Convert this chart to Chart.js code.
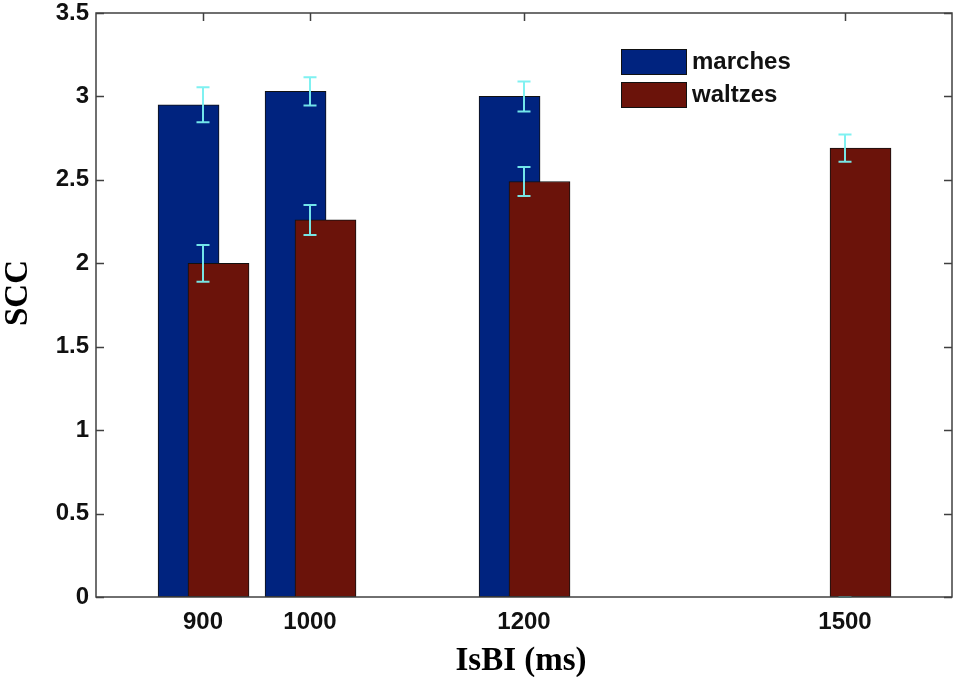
<!DOCTYPE html>
<html>
<head>
<meta charset="utf-8">
<script src="https://cdn.jsdelivr.net/npm/chart.js@4.4.1/dist/chart.umd.min.js"></script>
<style>
  html, body { margin: 0; padding: 0; background: #fff; }
  #wrap { width: 956px; height: 677px; }
</style>
</head>
<body>
<div id="wrap"><canvas id="c" width="956" height="677"></canvas></div>
<script>
// ---- data ----
const categories = [900, 1000, 1200, 1500];
const marches = [2.95, 3.03, 3.00, 0];
const marchesErr = [0.105, 0.085, 0.09, 0];
const waltzes = [2.00, 2.26, 2.49, 2.69];
const waltzesErr = [0.11, 0.09, 0.087, 0.082];
const yTicks = [0, 0.5, 1, 1.5, 2, 2.5, 3, 3.5];
const seriesNames = ['marches', 'waltzes'];
const xTitle = 'IsBI (ms)';
const yTitle = 'SCC';

// ---- styling / layout constants ----
const MARCH_COLOR = '#00237f';
const WALTZ_COLOR = '#6b130a';
const ERR_COLOR = 'rgba(120,240,240,0.95)';
const MARCH_OFFSET = -13.5;
const WALTZ_OFFSET = 14.5;
const TICK_FONT = { family: '"Liberation Sans", Arial, sans-serif', size: 24, weight: 'bold' };
const TITLE_CSS = 'bold 33px "Liberation Serif", "Times New Roman", serif';

const frameAndTicks = {
  id: 'frameAndTicks',
  beforeDatasetsDraw(chart) {
    const { ctx, chartArea: a, scales: { x, y } } = chart;
    ctx.save();
    ctx.strokeStyle = '#404040';
    ctx.lineWidth = 1.5;
    const L = 8;
    ctx.beginPath();
    x.ticks.forEach(t => {
      const px = Math.round(x.getPixelForValue(t.value)) + 0.5;
      ctx.moveTo(px, a.bottom); ctx.lineTo(px, a.bottom - L);
      ctx.moveTo(px, a.top); ctx.lineTo(px, a.top + L);
    });
    y.ticks.forEach(t => {
      const py = Math.round(y.getPixelForValue(t.value)) + 0.5;
      ctx.moveTo(a.left, py); ctx.lineTo(a.left + L, py);
      ctx.moveTo(a.right, py); ctx.lineTo(a.right - L, py);
    });
    ctx.stroke();
    ctx.restore();
  },
  afterDatasetsDraw(chart) {
    const { ctx, chartArea: a, scales: { x, y } } = chart;
    // error bars, drawn at the category position
    ctx.save();
    ctx.strokeStyle = ERR_COLOR;
    ctx.lineWidth = 2;
    const cap = 6.5;
    const drawErr = (vals, errs) => {
      vals.forEach((v, i) => {
        const px = x.getPixelForValue(categories[i]);
        const yt = y.getPixelForValue(v + errs[i]);
        const yb = y.getPixelForValue(v - errs[i]);
        ctx.beginPath();
        ctx.moveTo(px, yt); ctx.lineTo(px, yb);
        ctx.moveTo(px - cap, yt); ctx.lineTo(px + cap, yt);
        ctx.moveTo(px - cap, yb); ctx.lineTo(px + cap, yb);
        ctx.stroke();
      });
    };
    drawErr(marches, marchesErr);
    drawErr(waltzes, waltzesErr);
    ctx.restore();

    // frame
    ctx.save();
    ctx.strokeStyle = '#404040';
    ctx.lineWidth = 1.5;
    ctx.strokeRect(a.left, a.top, a.right - a.left, a.bottom - a.top);
    ctx.restore();

    // legend inside the plot
    ctx.save();
    const colors = [MARCH_COLOR, WALTZ_COLOR];
    const bx = 621, by0 = 49, bw = 65, bh = 25, gap = 33;
    ctx.font = 'bold 24px "Liberation Sans", Arial, sans-serif';
    ctx.textBaseline = 'middle';
    ctx.textAlign = 'left';
    seriesNames.forEach((name, i) => {
      const by = by0 + i * gap;
      ctx.fillStyle = colors[i];
      ctx.fillRect(bx, by, bw, bh);
      ctx.strokeStyle = '#111';
      ctx.lineWidth = 1;
      ctx.strokeRect(bx + 0.5, by + 0.5, bw, bh);
      ctx.fillStyle = '#111';
      ctx.fillText(name, bx + bw + 6, by + bh / 2 + 1);
    });
    ctx.restore();

    // axis titles
    ctx.save();
    ctx.fillStyle = '#000';
    ctx.font = TITLE_CSS;
    ctx.textAlign = 'center';
    ctx.textBaseline = 'middle';
    ctx.fillText(xTitle, 521, 661);
    ctx.translate(18, 293);
    ctx.rotate(-Math.PI / 2);
    ctx.fillText(yTitle, 0, 0);
    ctx.restore();
  }
};

new Chart(document.getElementById('c'), {
  type: 'bar',
  data: {
    datasets: [
      {
        label: seriesNames[0],
        data: categories.map((c, i) => ({ x: c + MARCH_OFFSET, y: marches[i] })),
        backgroundColor: MARCH_COLOR,
        borderColor: '#111',
        borderWidth: 1,
        borderSkipped: false,
        order: 1
      },
      {
        label: seriesNames[1],
        data: categories.map((c, i) => ({ x: c + WALTZ_OFFSET, y: waltzes[i] })),
        backgroundColor: WALTZ_COLOR,
        borderColor: '#111',
        borderWidth: 1,
        borderSkipped: false,
        order: 0
      }
    ]
  },
  options: {
    responsive: false,
    animation: false,
    grouped: false,
    barThickness: 61,
    layout: { padding: { top: 13, right: 4, left: 0, bottom: 0 } },
    plugins: { legend: { display: false }, tooltip: { enabled: false } },
    scales: {
      x: {
        type: 'linear',
        offset: false,
        min: 800, max: 1600,
        afterBuildTicks: s => { s.ticks = categories.map(v => ({ value: v })); },
        afterFit: s => { s.height = 80; s.paddingLeft = 0; s.paddingRight = 0; },
        grid: { display: false, drawTicks: false },
        border: { display: false },
        ticks: { font: TICK_FONT, color: '#111', padding: 11, maxRotation: 0, autoSkip: false,
                 callback: v => String(v) },
        title: { display: false }
      },
      y: {
        min: 0, max: 3.5,
        afterBuildTicks: s => { s.ticks = yTicks.map(v => ({ value: v })); },
        afterFit: s => { s.width = 96; s.paddingTop = 0; s.paddingBottom = 0; },
        grid: { display: false, drawTicks: false },
        border: { display: false },
        ticks: { font: TICK_FONT, color: '#111', padding: 7, callback: v => String(v) },
        title: { display: false }
      }
    }
  },
  plugins: [frameAndTicks]
});
</script>
</body>
</html>
